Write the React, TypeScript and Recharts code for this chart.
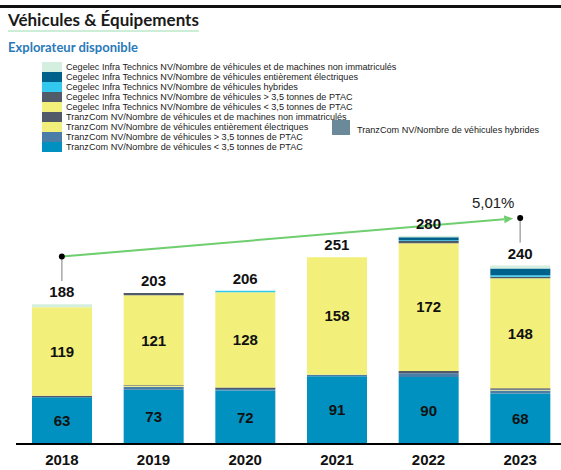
import { ComposedChart, Bar, Line, XAxis, YAxis, LabelList, ReferenceLine, ReferenceDot } from 'recharts';

const years = ['2018', '2019', '2020', '2021', '2022', '2023'];
const totals = [188, 203, 206, 251, 280, 240];

// stacked from bottom to top
const tzLt35 = [63, 73, 72, 91, 90, 68];
const tzHybrides = [0, 0, 0, 0, 0, 0];
const tzGt35 = [0, 4, 2, 2, 5, 4];
const tzElec = [0, 1, 0, 0, 0, 1];
const tzNonImm = [2, 1, 2, 0, 3, 2];
const ceLt35 = [119, 121, 128, 158, 172, 148];
const ceGt35 = [0, 3, 0, 0, 3, 2];
const ceHybrides = [0, 0, 2, 0, 1, 2];
const ceElec = [0, 0, 0, 0, 4, 9];
const ceNonImm = [4, 0, 0, 0, 2, 4];

// growth annotation (2018 -> 2023)
const cagrYears = ['2018', '2023'];
const cagrLevels = [252, 304];
const connectorEnds = [219, 271];
const cagrLabel = '5,01%';

const series = [
  { key: 'tzLt35', name: 'TranzCom NV/Nombre de véhicules < 3,5 tonnes de PTAC', color: '#0091c1', values: tzLt35 },
  { key: 'tzHybrides', name: 'TranzCom NV/Nombre de véhicules hybrides', color: '#6b8a99', values: tzHybrides },
  { key: 'tzGt35', name: 'TranzCom NV/Nombre de véhicules > 3,5 tonnes de PTAC', color: '#4a7ea6', values: tzGt35 },
  { key: 'tzElec', name: 'TranzCom NV/Nombre de véhicules entièrement électriques', color: '#f2f07a', values: tzElec },
  { key: 'tzNonImm', name: 'TranzCom NV/Nombre de véhicules et de machines non immatriculés', color: '#505a68', values: tzNonImm },
  { key: 'ceLt35', name: 'Cegelec Infra Technics NV/Nombre de véhicules < 3,5 tonnes de PTAC', color: '#f2f07a', values: ceLt35 },
  { key: 'ceGt35', name: 'Cegelec Infra Technics NV/Nombre de véhicules > 3,5 tonnes de PTAC', color: '#505a68', values: ceGt35 },
  { key: 'ceHybrides', name: 'Cegelec Infra Technics NV/Nombre de véhicules hybrides', color: '#33c8ee', values: ceHybrides },
  { key: 'ceElec', name: 'Cegelec Infra Technics NV/Nombre de véhicules entièrement électriques', color: '#00628a', values: ceElec },
  { key: 'ceNonImm', name: 'Cegelec Infra Technics NV/Nombre de véhicules et de machines non immatriculés', color: '#d4efdf', values: ceNonImm },
];

const labelledKeys = ['tzLt35', 'ceLt35'];

const data = years.map((year, i) => {
  const row: Record<string, string | number> = { year, total: totals[i] };
  series.forEach((s) => (row[s.key] = s.values[i]));
  return row;
});

// legend: first column is the stack reversed, hybrides TranzCom sits alone on the right
const legendMain = series.filter((s) => s.key !== 'tzHybrides').reverse();
const legendSide = series.find((s) => s.key === 'tzHybrides')!;

const GREEN = '#6fcf6f';

const ArrowLine = (props: any) => {
  const { x1, y1, x2, y2 } = props;
  const dx = x2 - x1;
  const dy = y2 - y1;
  const len = Math.hypot(dx, dy);
  const ux = dx / len;
  const uy = dy / len;
  const tipX = x2 - ux * 7;
  const tipY = y2 - uy * 7;
  const baseX = tipX - ux * 9;
  const baseY = tipY - uy * 9;
  const px = -uy;
  const py = ux;
  return (
    <g>
      <line x1={x1} y1={y1} x2={baseX} y2={baseY} stroke={GREEN} strokeWidth={2} />
      <polygon
        points={`${tipX},${tipY} ${baseX + px * 4},${baseY + py * 4} ${baseX - px * 4},${baseY - py * 4}`}
        fill={GREEN}
      />
    </g>
  );
};

const chartFont = '"Liberation Sans", Arial, sans-serif';

export default function App() {
  return (
    <div
      style={{
        position: 'absolute',
        left: 0,
        top: 0,
        width: 561,
        height: 470,
        overflow: 'hidden',
        background: '#fff',
        fontFamily: chartFont,
      }}
    >
      <div style={{ position: 'absolute', left: 0, top: 5, width: 561, height: 3, background: '#111' }} />
      <div
        style={{
          position: 'absolute',
          left: 8,
          top: 10,
          lineHeight: '20px',
          fontFamily: 'Lato, sans-serif',
          fontWeight: 700,
          fontSize: 17,
          color: '#1a1a1a',
          textDecoration: 'underline',
          textDecorationColor: '#cdeed6',
          textDecorationThickness: 2,
          textUnderlineOffset: 4,
        }}
      >
        Véhicules &amp; Équipements
      </div>
      <div
        style={{
          position: 'absolute',
          left: 8,
          top: 38,
          lineHeight: '18px',
          fontFamily: 'Lato, sans-serif',
          fontWeight: 700,
          fontSize: 13,
          color: '#2a7ab9',
        }}
      >
        Explorateur disponible
      </div>

      <div style={{ position: 'absolute', left: 0, top: 0, width: 580, height: 470 }}>
        <ComposedChart width={580} height={470} data={data} margin={{ top: 206, right: 14, bottom: 0, left: 16 }}>
          <YAxis hide domain={[0, 320]} />
          <XAxis
            dataKey="year"
            height={26}
            axisLine={{ stroke: '#000', strokeWidth: 2 }}
            tickLine={false}
            tick={{ fontSize: 15, fontWeight: 700, fill: '#111', fontFamily: chartFont }}
            tickMargin={4}
          />
          {series.map((s) => (
            <Bar key={s.key} dataKey={s.key} name={s.name} stackId="a" fill={s.color} barSize={60} isAnimationActive={false}>
              {labelledKeys.includes(s.key) && (
                <LabelList
                  dataKey={s.key}
                  position="center"
                  style={{ fontSize: 15, fontWeight: 700, fill: '#111', fontFamily: chartFont }}
                />
              )}
            </Bar>
          ))}
          <Line dataKey="total" stroke="none" dot={false} activeDot={false} isAnimationActive={false}>
            <LabelList
              dataKey="total"
              position="top"
              offset={7}
              style={{ fontSize: 15, fontWeight: 700, fill: '#111', fontFamily: chartFont }}
            />
          </Line>
          {cagrYears.map((y, i) => (
            <ReferenceLine
              key={'c' + y}
              segment={[
                { x: y, y: cagrLevels[i] },
                { x: y, y: connectorEnds[i] },
              ]}
              stroke="#a8a8a8"
              strokeWidth={1.5}
            />
          ))}
          <ReferenceLine
            segment={[
              { x: cagrYears[0], y: cagrLevels[0] },
              { x: cagrYears[1], y: cagrLevels[1] },
            ]}
            shape={ArrowLine}
          />
          <ReferenceDot x={cagrYears[0]} y={cagrLevels[0]} r={3} fill="#000" stroke="none" />
          <ReferenceDot
            x={cagrYears[1]}
            y={cagrLevels[1]}
            r={3}
            fill="#000"
            stroke="none"
            label={(p: any) => {
              const vb = p.viewBox || {};
              const cx = vb.x + vb.width / 2;
              const cy = vb.y + vb.height / 2;
              return (
                <text
                  x={cx - 27}
                  y={cy - 15}
                  textAnchor="middle"
                  dominantBaseline="central"
                  fontSize={15}
                  fill="#222"
                  fontFamily={chartFont}
                >
                  {cagrLabel}
                </text>
              );
            }}
          />
        </ComposedChart>
      </div>

      {legendMain.map((s, i) => (
        <div key={s.key} style={{ position: 'absolute', left: 42, top: 62 + i * 10, height: 10, display: 'flex', alignItems: 'center' }}>
          <div style={{ width: 20, height: 10, background: s.color }} />
          <div style={{ marginLeft: 4, fontSize: 9.1, lineHeight: '10px', color: '#1a1a1a', whiteSpace: 'nowrap' }}>{s.name}</div>
        </div>
      ))}
      <div style={{ position: 'absolute', left: 332, top: 120, width: 18, height: 15, background: legendSide.color }} />
      <div style={{ position: 'absolute', left: 357, top: 125, fontSize: 9.1, lineHeight: '10px', color: '#1a1a1a', whiteSpace: 'nowrap' }}>
        {legendSide.name}
      </div>
    </div>
  );
}
